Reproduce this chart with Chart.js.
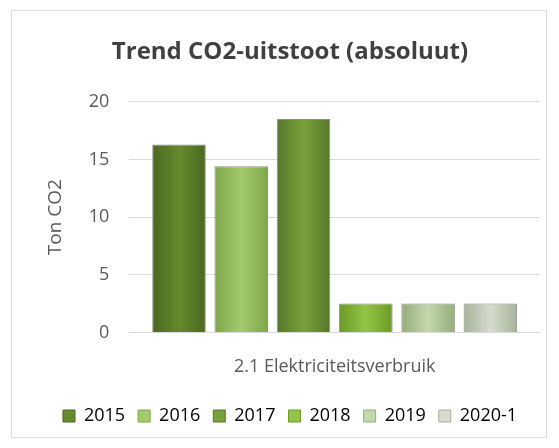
<!DOCTYPE html>
<html>
<head>
<meta charset="utf-8">
<script src="https://cdn.jsdelivr.net/npm/chart.js@4/dist/chart.umd.min.js"></script>
<style>
  body { margin: 0; background: #fff; }
  .frame {
    position: absolute; left: 11px; top: 10px;
    width: 536px; height: 428px;
    border: 1px solid #d9d9d9; box-sizing: border-box; background: #fff;
  }
  canvas { display: block; }
</style>
</head>
<body>
<div class="frame"><canvas id="chart" width="534" height="426"></canvas></div>
<script>
// data
const categories = ["2.1 Elektriciteitsverbruik"];
const years = ["2015", "2016", "2017", "2018", "2019", "2020-1"];
const tonCO2 = [16.3, 14.4, 18.5, 2.5, 2.5, 2.5];
const yTicks = [0, 5, 10, 15, 20];

// dark edge / light middle of each bar
const barColors = [
  ["#4a6620", "#678a2e"],
  ["#7fa64a", "#a3cb6c"],
  ["#56772a", "#7aa13a"],
  ["#6a9a26", "#94c446"],
  ["#93ad7a", "#c3d8ac"],
  ["#a7b29a", "#d6ddcd"],
];

function barFill(i) {
  return (ctx) => {
    const el = ctx.element;
    if (!el || el.width == null || isNaN(el.x)) return barColors[i][1];
    const x0 = el.x - el.width / 2, x1 = el.x + el.width / 2;
    const g = ctx.chart.ctx.createLinearGradient(x0, 0, x1, 0);
    g.addColorStop(0, barColors[i][0]);
    g.addColorStop(0.5, barColors[i][1]);
    g.addColorStop(1, barColors[i][0]);
    return g;
  };
}

const datasets = years.map((y, i) => ({
  label: y,
  data: [tonCO2[i]],
  backgroundColor: barFill(i),
  borderColor: "#8c8c8c",
  borderWidth: 1,
  categoryPercentage: 0.91,
  barPercentage: 0.86,
}));

const font = "Open Sans";

const chart = new Chart(document.getElementById("chart"), {
  type: "bar",
  data: { labels: categories, datasets: datasets },
  options: {
    responsive: false,
    animation: false,
    layout: { padding: { left: 28, right: 6, top: 8, bottom: 2 } },
    plugins: {
      title: {
        display: true,
        text: "Trend CO2-uitstoot (absoluut)",
        color: "#404040",
        font: { family: font, size: 24, weight: "bold" },
        padding: { top: 19, bottom: 35 },
      },
      legend: {
        position: "bottom",
        labels: {
          color: "#595959",
          font: { family: font, size: 18 },
          boxWidth: 12, boxHeight: 12, padding: 13,
          generateLabels: () => years.map((y, i) => ({
            text: y, fillStyle: barColors[i][1], strokeStyle: barColors[i][0],
            lineWidth: 1, datasetIndex: i,
          })),
        },
      },
      tooltip: { enabled: false },
    },
    scales: {
      x: {
        grid: { display: false },
        border: { color: "#d9d9d9" },
        ticks: { color: "#595959", font: { family: font, size: 18 }, padding: 16 },
      },
      y: {
        min: 0, max: 20,
        afterBuildTicks: (axis) => { axis.ticks = yTicks.map(v => ({ value: v })); },
        grid: { color: "#d9d9d9", drawTicks: false },
        border: { display: false },
        ticks: { color: "#595959", font: { family: font, size: 18 }, padding: 20 },
        title: {
          display: true, text: "Ton CO2", color: "#595959",
          font: { family: font, size: 19 }, padding: { bottom: 2 },
        },
      },
    },
  },
});
// second pass so the bar gradients know where each bar sits
chart.update();
</script>
</body>
</html>
